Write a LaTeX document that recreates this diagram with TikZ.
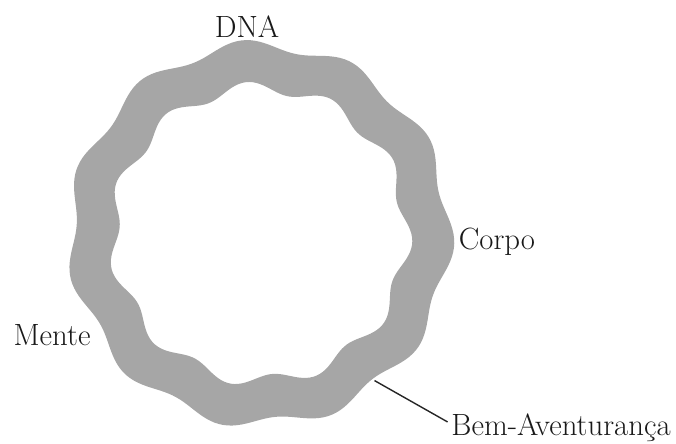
\documentclass[tikz,border=0pt]{standalone}
\usepackage{tikz}
\usetikzlibrary{positioning}

\tikzset{
    ringfill/.style={fill=gray!70, even odd rule},
    ringlabel/.style={font=\fontsize{17.5}{21}\selectfont, text=black!90, inner sep=2pt},
}

\begin{document}
\begin{tikzpicture}

    \useasboundingbox (0,0) rectangle (13.52,8.86);

    % === Wavy ring ===
    \coordinate (ring) at (5.2,4.18);
    \fill[ringfill, shift={(ring)}]
        plot[domain=0:360, samples=265] (\x:{3.78+0.11*sin(11*\x+125)}) -- cycle
        plot[domain=0:360, samples=265] (\x:{2.93+0.12*sin(11*\x+125)}) -- cycle;

    % Point on the ring for the pointer line
    \coordinate (bliss) at ([shift={(-52:3.72)}]ring);

    % === Labels ===
    \node[ringlabel, anchor=base] (dna) at (4.94,8.10) {DNA};
    \node[ringlabel, anchor=base] (corpo) at (9.94,3.88) {Corpo};
    \node[ringlabel, anchor=base] (mente) at (1.04,1.96) {Mente};
    \node[ringlabel, anchor=base] (bem) at (11.22,0.16) {Bem-Aventurança};

    % Pointer line
    \draw[line width=0.8pt, black!85] (bliss) -- ([yshift=3pt]bem.west);

\end{tikzpicture}
\end{document}
